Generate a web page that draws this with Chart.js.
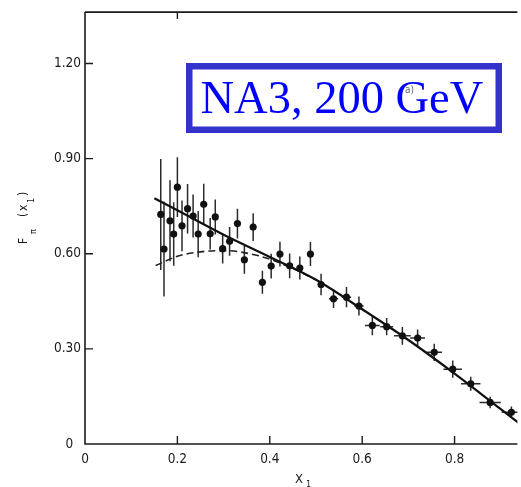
<!DOCTYPE html>
<html>
<head>
<meta charset="utf-8">
<script src="https://cdn.jsdelivr.net/npm/chart.js@4.4.0/dist/chart.umd.min.js"></script>
<style>
  html, body { margin: 0; padding: 0; background: #fff; overflow: hidden; }
  #chart { display: block; }
</style>
</head>
<body>
<canvas id="chart" width="521" height="487"></canvas>
<script>
// Pion structure function F_pi(x1), NA3 Drell-Yan data at 200 GeV
const xVals = [0.164, 0.171, 0.184, 0.192, 0.200, 0.210, 0.222, 0.234, 0.245, 0.257, 0.271, 0.282,
               0.298, 0.313, 0.330, 0.345, 0.364, 0.384, 0.403, 0.422, 0.443, 0.465, 0.488, 0.511,
               0.538, 0.566, 0.593, 0.622, 0.653, 0.687, 0.720, 0.756, 0.796, 0.835, 0.877, 0.923];
const yVals = [0.724, 0.615, 0.704, 0.662, 0.810, 0.688, 0.742, 0.719, 0.662, 0.756, 0.663, 0.716,
               0.616, 0.639, 0.695, 0.581, 0.684, 0.510, 0.561, 0.599, 0.562, 0.555, 0.599, 0.503,
               0.458, 0.463, 0.435, 0.374, 0.370, 0.341, 0.334, 0.289, 0.236, 0.190, 0.131, 0.100];
const yErr  = [0.175, 0.150, 0.128, 0.100, 0.094, 0.080, 0.078, 0.068, 0.073, 0.065, 0.050, 0.055,
               0.047, 0.045, 0.047, 0.044, 0.044, 0.036, 0.039, 0.039, 0.039, 0.036, 0.038, 0.034,
               0.029, 0.032, 0.030, 0.031, 0.027, 0.028, 0.027, 0.027, 0.027, 0.022, 0.018, 0.018];
const xErr  = [0, 0, 0, 0, 0, 0, 0, 0, 0, 0, 0, 0,
               0, 0, 0, 0, 0, 0, 0, 0, 0, 0, 0, 0,
               0.010, 0.010, 0.010, 0.016, 0.014, 0.018, 0.016, 0.017, 0.020, 0.021, 0.023, 0.021];

// Fitted curves (solid: full fit, dashed: alternative fit at low x1)
const fitX   = [0.150, 0.200, 0.300, 0.400, 0.500, 0.600, 0.700, 0.800, 0.900, 0.940];
const fitY   = [0.775, 0.737, 0.660, 0.590, 0.518, 0.425, 0.328, 0.222, 0.110, 0.065];
const dashX  = [0.153, 0.200, 0.250, 0.300, 0.350, 0.400, 0.450, 0.500];
const dashY  = [0.563, 0.592, 0.606, 0.610, 0.602, 0.583, 0.553, 0.518];

const xTicks = [0, 0.2, 0.4, 0.6, 0.8];
const xTickLabels = ['0', '0.2', '0.4', '0.6', '0.8'];
const yTicks = [0, 0.3, 0.6, 0.9, 1.2];
const yTickLabels = ['0  ', '0.30', '0.60', '0.90', '1.20'];

const tickFont = '"DejaVu Sans Condensed", "Liberation Sans Narrow", "Liberation Sans", sans-serif';
const ink = '#1b1b1b';

const pts = xVals.map((x, i) => ({ x, y: yVals[i] }));
const fit = fitX.map((x, i) => ({ x, y: fitY[i] }));
const dash = dashX.map((x, i) => ({ x, y: dashY[i] }));

// Frame, inward ticks and error bars
const framePlugin = {
  id: 'frame',
  beforeDatasetsDraw(chart) {
    const { ctx, chartArea: a, scales: { x, y } } = chart;
    ctx.save();
    ctx.strokeStyle = ink;
    ctx.lineWidth = 1.6;
    ctx.beginPath();
    ctx.moveTo(a.left, a.top); ctx.lineTo(a.right, a.top);
    ctx.moveTo(a.left, a.top); ctx.lineTo(a.left, a.bottom); ctx.lineTo(a.right, a.bottom);
    ctx.stroke();
    ctx.lineWidth = 1.4;
    ctx.beginPath();
    xTicks.forEach(v => {
      if (v === 0) return;
      const px = x.getPixelForValue(v);
      ctx.moveTo(px, a.bottom); ctx.lineTo(px, a.bottom - 8);
    });
    const tx = x.getPixelForValue(0.2);
    ctx.moveTo(tx, a.top); ctx.lineTo(tx, a.top + 7);
    yTicks.forEach(v => {
      if (v === 0) return;
      const py = y.getPixelForValue(v);
      ctx.moveTo(a.left, py); ctx.lineTo(a.left + 8, py);
    });
    ctx.stroke();

    // error bars
    ctx.beginPath();
    ctx.rect(a.left, a.top, a.right - a.left, a.bottom - a.top);
    ctx.clip();
    ctx.strokeStyle = '#2a2a2a';
    ctx.lineWidth = 1.5;
    ctx.beginPath();
    xVals.forEach((xv, i) => {
      const px = x.getPixelForValue(xv);
      const py = y.getPixelForValue(yVals[i]);
      ctx.moveTo(px, y.getPixelForValue(yVals[i] + yErr[i]));
      ctx.lineTo(px, y.getPixelForValue(yVals[i] - yErr[i]));
      if (xErr[i] > 0) {
        ctx.moveTo(x.getPixelForValue(xv - xErr[i]), py);
        ctx.lineTo(x.getPixelForValue(xv + xErr[i]), py);
      }
    });
    ctx.stroke();
    ctx.restore();
  },
  afterDraw(chart) {
    const { ctx } = chart;
    ctx.save();
    ctx.fillStyle = ink;
    ctx.textBaseline = 'alphabetic';
    ctx.textAlign = 'left';
    // y-axis title: F_pi (x_1)
    ctx.save();
    ctx.translate(27, 244);
    ctx.rotate(-Math.PI / 2);
    ctx.font = '12px ' + tickFont;
    ctx.fillText('F', 0, 0);
    ctx.font = '9px ' + tickFont;
    ctx.fillText('\u03c0', 10, 9);
    ctx.font = '12px ' + tickFont;
    ctx.fillText('(', 27, 0);
    ctx.fillText('x', 33, 0);
    ctx.font = '9px ' + tickFont;
    ctx.fillText('1', 41, 7);
    ctx.font = '12px ' + tickFont;
    ctx.fillText(')', 48, 0);
    ctx.restore();
    // x-axis title: X_1
    ctx.font = '13px ' + tickFont;
    ctx.fillText('X', 295, 483);
    ctx.font = '9px ' + tickFont;
    ctx.fillText('1', 306, 487);

    // experiment label box
    ctx.fillStyle = '#ffffff';
    ctx.fillRect(186, 63, 316, 70);
    ctx.strokeStyle = '#3333cc';
    ctx.lineWidth = 6.5;
    ctx.strokeRect(189.25, 66.25, 309.5, 63.5);
    ctx.fillStyle = '#0000ff';
    ctx.font = '46.5px "Liberation Serif", "Times New Roman", serif';
    ctx.fillText('NA3, 200 GeV', 200.5, 113.3);
    // panel tag
    ctx.fillStyle = '#666666';
    ctx.font = '10px ' + tickFont;
    ctx.fillText('a)', 405, 93);
    ctx.restore();
  }
};

new Chart(document.getElementById('chart'), {
  type: 'scatter',
  data: {
    datasets: [
      { type: 'scatter', data: pts, pointRadius: 3.6, pointHoverRadius: 3.6,
        backgroundColor: '#111', borderWidth: 0 },
      { type: 'line', data: fit, borderColor: '#111', borderWidth: 2.2, pointRadius: 0,
        fill: false, cubicInterpolationMode: 'monotone' },
      { type: 'line', data: dash, borderColor: '#222', borderWidth: 1.6, borderDash: [7, 4],
        pointRadius: 0, fill: false, cubicInterpolationMode: 'monotone' }
    ]
  },
  options: {
    responsive: false,
    animation: false,
    devicePixelRatio: 1,
    layout: { padding: { top: 8, right: 0, bottom: 0, left: 0 } },
    plugins: { legend: { display: false }, tooltip: { enabled: false } },
    scales: {
      x: {
        type: 'linear', min: 0, max: 0.936,
        grid: { display: false, drawTicks: false },
        border: { display: false },
        afterBuildTicks: s => { s.ticks = xTicks.map(v => ({ value: v })); },
        afterFit: s => { s.height = 43; },
        ticks: {
          padding: 7, color: ink, maxRotation: 0, autoSkip: false,
          font: { family: tickFont, size: 13.5 },
          callback: (v, i) => xTickLabels[i]
        }
      },
      y: {
        type: 'linear', min: 0, max: 1.362,
        grid: { display: false, drawTicks: false },
        border: { display: false },
        afterBuildTicks: s => { s.ticks = yTicks.map(v => ({ value: v })); },
        afterFit: s => { s.width = 85; },
        ticks: {
          padding: 4, color: ink, autoSkip: false,
          font: { family: tickFont, size: 13.5 },
          callback: (v, i) => yTickLabels[i]
        }
      }
    }
  },
  plugins: [framePlugin]
});
</script>
</body>
</html>
